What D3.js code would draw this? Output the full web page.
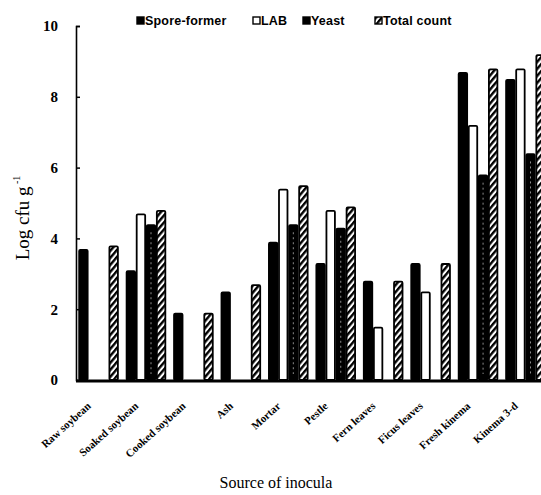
<!DOCTYPE html>
<html>
<head>
<meta charset="utf-8">
<script src="https://cdn.jsdelivr.net/npm/d3@7"></script>
<style>
  body { margin: 0; background: #fff; }
  svg { display: block; }
</style>
</head>
<body>
<svg id="chart" width="541" height="495"></svg>
<script>
const categories = ['Raw soybean', 'Soaked soybean', 'Cooked soybean', 'Ash', 'Mortar',
  'Pestle', 'Fern leaves', 'Ficus leaves', 'Fresh kinema', 'Kinema 3-d'];
const seriesNames = ['Spore-former', 'LAB', 'Yeast', 'Total count'];
const sporeFormer = [3.7, 3.1, 1.9, 2.5, 3.9, 3.3, 2.8, 3.3, 8.7, 8.5];
const lab = [0, 4.7, 0, 0, 5.4, 4.8, 1.5, 2.5, 7.2, 8.8];
const yeast = [0, 4.4, 0, 0, 4.4, 4.3, 0, 0, 5.8, 6.4];
const totalCount = [3.8, 4.8, 1.9, 2.7, 5.5, 4.9, 2.8, 3.3, 8.8, 9.2];
const yTicks = [0, 2, 4, 6, 8, 10];

const seriesValues = [sporeFormer, lab, yeast, totalCount];

const svg = d3.select('#chart');
const y0 = 380, yTop = 26, xLeft = 76;

const y = d3.scaleLinear().domain([0, 10]).range([y0, yTop]);
const x0 = d3.scaleBand().domain(categories).range([xLeft, 548])
  .paddingInner(0.15).paddingOuter(0.05);
const x1 = d3.scaleBand().domain(seriesNames).range([0, x0.bandwidth()]);

// hatch pattern
const defs = svg.append('defs');
const pat = defs.append('pattern')
  .attr('id', 'hatch')
  .attr('patternUnits', 'userSpaceOnUse')
  .attr('width', 4.5).attr('height', 4.5)
  .attr('patternTransform', 'rotate(40)');
pat.append('rect').attr('width', 4.5).attr('height', 4.5).attr('fill', '#fff');
pat.append('line')
  .attr('x1', 1.2).attr('y1', 0).attr('x2', 1.2).attr('y2', 4.5)
  .attr('stroke', '#000').attr('stroke-width', 2.4);

const styleOf = {
  'Spore-former': { fill: '#000', stroke: '#000' },
  'LAB': { fill: '#fff', stroke: '#000' },
  'Yeast': { fill: '#000', stroke: '#000' },
  'Total count': { fill: 'url(#hatch)', stroke: '#000' }
};

const rows = categories.map((c, i) => ({
  cat: c,
  vals: seriesNames.map((s, k) => ({ s, v: seriesValues[k][i] }))
}));

const groups = svg.append('g')
  .selectAll('g')
  .data(rows)
  .enter()
  .append('g')
  .attr('transform', d => `translate(${x0(d.cat)},0)`);

groups.selectAll('rect')
  .data(d => d.vals.filter(e => e.v > 0))
  .enter()
  .append('rect')
  .attr('x', d => x1(d.s) + 0.8)
  .attr('y', d => y(d.v) + 0.8)
  .attr('width', x1.bandwidth() - 1.6)
  .attr('height', d => y0 - y(d.v) - 0.8)
  .attr('rx', 1.2)
  .attr('fill', d => styleOf[d.s].fill)
  .attr('stroke', d => styleOf[d.s].stroke)
  .attr('stroke-width', 1.8);

// faint scan specks on yeast bars
groups.selectAll('line.speck')
  .data(d => d.vals.filter(e => e.s === 'Yeast' && e.v > 0))
  .enter()
  .append('line')
  .attr('class', 'speck')
  .attr('x1', d => x1(d.s) + x1.bandwidth() / 2)
  .attr('x2', d => x1(d.s) + x1.bandwidth() / 2)
  .attr('y1', d => y(d.v) + 8)
  .attr('y2', y0 - 6)
  .attr('stroke', '#fff')
  .attr('stroke-opacity', 0.55)
  .attr('stroke-width', 1)
  .attr('stroke-dasharray', '2,3');

// y axis
const yAxis = svg.append('g')
  .attr('transform', `translate(${xLeft},0)`)
  .call(d3.axisLeft(y).tickValues(yTicks).tickFormat(d3.format('d'))
    .tickSizeInner(-4).tickSizeOuter(-4).tickPadding(18));
yAxis.select('.domain').attr('stroke', '#000').attr('stroke-width', 1.6);
yAxis.selectAll('.tick line').attr('stroke', '#000').attr('stroke-width', 1.5);
yAxis.selectAll('.tick text')
  .attr('font-family', '"Liberation Serif", "DejaVu Serif", serif')
  .attr('font-weight', 'bold')
  .attr('font-size', 15)
  .attr('fill', '#000');

// x axis baseline
svg.append('line')
  .attr('x1', xLeft).attr('x2', 541)
  .attr('y1', y0 + 1).attr('y2', y0 + 1)
  .attr('stroke', '#000').attr('stroke-width', 3);

// category labels
svg.append('g')
  .selectAll('text')
  .data(categories)
  .enter()
  .append('text')
  .attr('transform', d => `translate(${x0(d) + x0.bandwidth() / 2 - 7},${y0 + 27}) rotate(-42)`)
  .attr('text-anchor', 'end')
  .attr('font-family', '"Liberation Serif", "DejaVu Serif", serif')
  .attr('font-weight', 'bold')
  .attr('font-size', 11)
  .text(d => d);

// axis titles
const yt = svg.append('text')
  .attr('transform', `translate(29,${218}) rotate(-90)`)
  .attr('text-anchor', 'middle')
  .attr('font-family', '"Liberation Serif", "DejaVu Serif", serif')
  .attr('font-size', 19);
yt.append('tspan').text('Log cfu g');
yt.append('tspan').attr('dy', -9).attr('font-size', 10).text(' -1');

svg.append('text')
  .attr('x', 276).attr('y', 488)
  .attr('text-anchor', 'middle')
  .attr('font-family', '"Liberation Serif", "DejaVu Serif", serif')
  .attr('font-size', 16)
  .text('Source of inocula');

// legend
const legendX = [137, 253, 303, 375];
const legend = svg.append('g')
  .selectAll('g')
  .data(seriesNames)
  .enter()
  .append('g')
  .attr('transform', (d, i) => `translate(${legendX[i]},17)`);
legend.append('rect')
  .attr('x', 0).attr('y', 0)
  .attr('width', 7).attr('height', 7)
  .attr('fill', d => d === 'Total count' ? 'url(#hatch)' : styleOf[d].fill)
  .attr('stroke', '#000').attr('stroke-width', 1.4);
legend.append('text')
  .attr('x', 8).attr('y', 8)
  .attr('font-family', '"Liberation Sans", Arial, sans-serif')
  .attr('font-weight', 'bold')
  .attr('font-size', 12.5)
  .attr('letter-spacing', 0.2)
  .text(d => d);
</script>
</body>
</html>
